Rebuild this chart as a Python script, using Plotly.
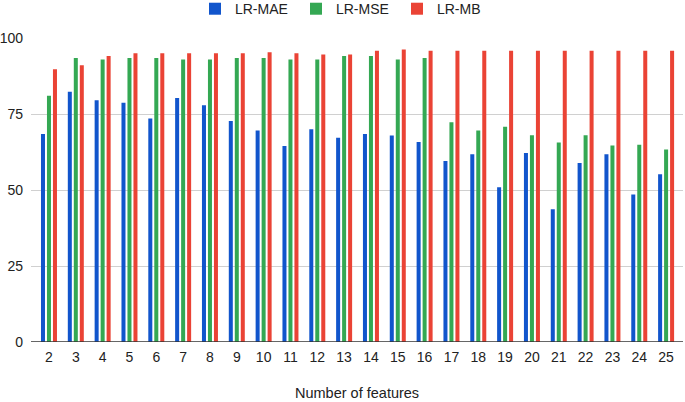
import plotly.graph_objects as go

categories = [str(i) for i in range(2, 26)]
lr_mae = [68.4, 82.3, 79.5, 78.7, 73.5, 80.3, 77.9, 72.7, 69.6, 64.5, 70.0, 67.2,
          68.4, 67.9, 65.8, 59.5, 61.8, 50.9, 62.2, 43.7, 58.9, 61.8, 48.5, 55.2]
lr_mse = [81.0, 93.4, 92.9, 93.4, 93.4, 92.9, 92.9, 93.4, 93.4, 92.9, 92.9, 94.1,
          94.1, 92.9, 93.4, 72.3, 69.6, 70.8, 68.0, 65.6, 68.0, 64.6, 64.9, 63.3]
lr_mb = [89.7, 91.0, 94.1, 95.0, 95.0, 95.0, 95.0, 95.0, 95.3, 95.0, 94.6, 94.6,
         95.8, 96.2, 95.8, 95.8, 95.8, 95.8, 95.8, 95.8, 95.8, 95.8, 95.8, 95.8]
y_ticks = [0, 25, 50, 75, 100]

series = [("LR-MAE", lr_mae, "#1155cc"), ("LR-MSE", lr_mse, "#34a853"), ("LR-MB", lr_mb, "#ea4335")]

fig = go.Figure()
for name, vals, col in series:
    fig.add_trace(go.Bar(x=categories, y=vals, name=name, marker=dict(color=col, line=dict(width=0))))

fig.update_layout(
    width=685, height=402,
    margin=dict(l=31, r=2, t=38, b=60, autoexpand=False),
    paper_bgcolor="white", plot_bgcolor="white",
    font=dict(family="Liberation Sans, Arial, sans-serif", size=14, color="#222222"),
    barmode="group", bargap=0.33, bargroupgap=0.33,
    showlegend=True,
    legend=dict(orientation="h", x=0.2515, xanchor="left", y=1.095, yanchor="middle",
                entrywidth=56, entrywidthmode="pixels", bgcolor="rgba(0,0,0,0)",
                font=dict(size=14, color="#222222")),
    xaxis=dict(type="category", range=[-0.67, 23.63], showgrid=False, automargin=False,
               tickfont=dict(size=14), ticks="", ticklabelstandoff=5,
               showline=False, zeroline=False),
    yaxis=dict(range=[0, 100], tickvals=y_ticks, showgrid=True, gridcolor="#d0d0d0",
               gridwidth=1, zeroline=False, tickfont=dict(size=14), ticks="",
               ticklabelstandoff=7, showline=False, automargin=False),
    shapes=[dict(type="line", xref="paper", yref="y", x0=0, x1=1, y0=0, y1=0,
                 line=dict(color="#333333", width=1.5))],
    annotations=[dict(text="Number of features", xref="paper", yref="paper",
                      x=0.5, y=-0.168, xanchor="center", yanchor="middle",
                      showarrow=False, font=dict(size=14.5, color="#222222"))],
)
fig.write_html("out.html", config={"displayModeBar": False},
               post_script="document.body.style.margin='0';")
